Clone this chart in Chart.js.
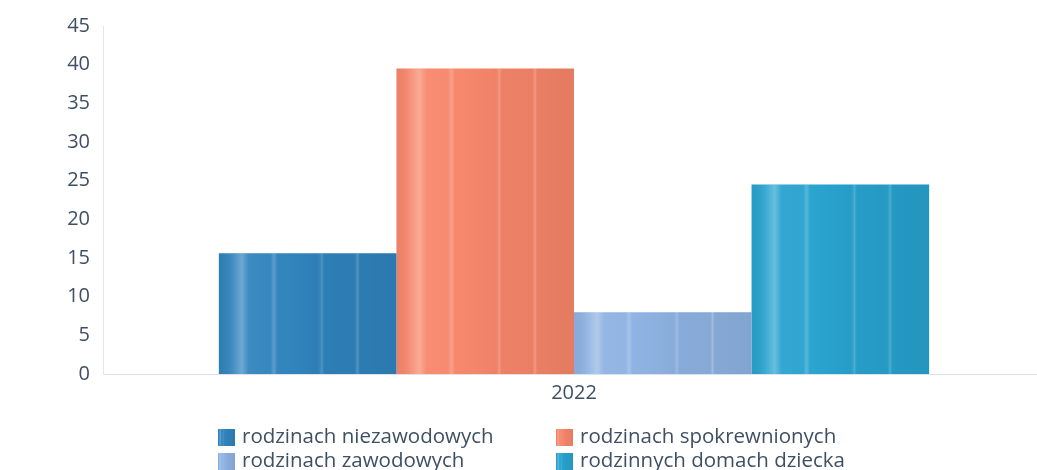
<!DOCTYPE html>
<html>
<head>
<meta charset="utf-8">
<script src="https://cdn.jsdelivr.net/npm/chart.js@4/dist/chart.umd.min.js"></script>
<style>
  html, body { margin: 0; padding: 0; background: #ffffff; overflow: hidden; }
  #wrap { width: 1050px; height: 470px; }
</style>
</head>
<body>
<div id="wrap"><canvas id="c" width="1050" height="470"></canvas></div>
<script>
// ---- data ----
const categories = ['2022'];
const seriesLabels = ['rodzinach niezawodowych', 'rodzinach spokrewnionych', 'rodzinach zawodowych', 'rodzinnych domach dziecka'];
const niezawodowe = [15.6];
const spokrewnione = [39.5];
const zawodowe = [8.0];
const domyDziecka = [24.5];
const yTicks = [0, 5, 10, 15, 20, 25, 30, 35, 40, 45];

const colors = ['#2f83bd', '#f7866a', '#8db2e2', '#27a2cf'];
const seriesValues = [niezawodowe, spokrewnione, zawodowe, domyDziecka];

const FONT = '"Open Sans", "Noto Sans", sans-serif';
const TEXT = '#3f4f64';

function stripeGradient(ctx, left, width) {
  const g = ctx.createLinearGradient(left, 0, left + width, 0);
  g.addColorStop(0.00, 'rgba(0,0,0,0.04)');
  g.addColorStop(0.08, 'rgba(255,255,255,0.10)');
  g.addColorStop(0.13, 'rgba(255,255,255,0.30)');
  g.addColorStop(0.17, 'rgba(255,255,255,0.06)');
  g.addColorStop(0.29, 'rgba(255,255,255,0.04)');
  g.addColorStop(0.31, 'rgba(255,255,255,0.22)');
  g.addColorStop(0.33, 'rgba(255,255,255,0.02)');
  g.addColorStop(0.55, 'rgba(0,0,0,0.03)');
  g.addColorStop(0.58, 'rgba(255,255,255,0.14)');
  g.addColorStop(0.60, 'rgba(0,0,0,0.04)');
  g.addColorStop(0.76, 'rgba(0,0,0,0.05)');
  g.addColorStop(0.78, 'rgba(255,255,255,0.16)');
  g.addColorStop(0.80, 'rgba(0,0,0,0.06)');
  g.addColorStop(1.00, 'rgba(0,0,0,0.08)');
  return g;
}

const stripePlugin = {
  id: 'stripes',
  afterDatasetsDraw(chart) {
    const ctx = chart.ctx;
    ctx.save();
    chart.data.datasets.forEach((ds, i) => {
      const meta = chart.getDatasetMeta(i);
      meta.data.forEach(el => {
        const left = el.x - el.width / 2;
        const top = Math.min(el.y, el.base);
        const h = Math.abs(el.base - el.y);
        ctx.fillStyle = stripeGradient(ctx, left, el.width);
        ctx.fillRect(left, top, el.width, h);
      });
    });
    ctx.restore();
  }
};

const legendPlugin = {
  id: 'gridLegend',
  afterDraw(chart) {
    const ctx = chart.ctx;
    const colX = [218, 556];
    const rowY = [437, 461];
    ctx.save();
    ctx.font = '20.5px ' + FONT;
    ctx.textBaseline = 'middle';
    ctx.textAlign = 'left';
    chart.data.datasets.forEach((ds, i) => {
      const x = colX[i % 2];
      const y = rowY[Math.floor(i / 2)];
      ctx.fillStyle = ds.backgroundColor;
      ctx.fillRect(x, y - 8, 17, 17);
      ctx.fillStyle = stripeGradient(ctx, x, 17);
      ctx.fillRect(x, y - 8, 17, 17);
      ctx.fillStyle = TEXT;
      ctx.fillText(ds.label, x + 24, y);
    });
    ctx.restore();
  }
};

new Chart(document.getElementById('c'), {
  type: 'bar',
  data: {
    labels: categories,
    datasets: seriesLabels.map((lab, i) => ({
      label: lab,
      data: seriesValues[i],
      backgroundColor: colors[i],
      borderWidth: 0
    }))
  },
  options: {
    responsive: false,
    animation: false,
    layout: { padding: { top: 26, right: 5, left: 0, bottom: 0 } },
    categoryPercentage: 0.754,
    barPercentage: 1.0,
    plugins: {
      legend: { display: false },
      tooltip: { enabled: false }
    },
    scales: {
      x: {
        grid: { display: false, drawTicks: false },
        border: { display: true, color: '#dde1e5', width: 1 },
        ticks: { color: TEXT, font: { family: FONT, size: 20 }, padding: 7 },
        afterFit(scale) { scale.height = 96; }
      },
      y: {
        min: 0,
        max: 45,
        afterBuildTicks(scale) { scale.ticks = yTicks.map(v => ({ value: v })); },
        grid: { display: false, drawTicks: false },
        border: { display: true, color: '#e3e6ea', width: 1 },
        ticks: { color: TEXT, font: { family: FONT, size: 20 }, padding: 13 },
        afterFit(scale) { scale.width = 103; }
      }
    }
  },
  plugins: [stripePlugin, legendPlugin]
});
</script>
</body>
</html>
